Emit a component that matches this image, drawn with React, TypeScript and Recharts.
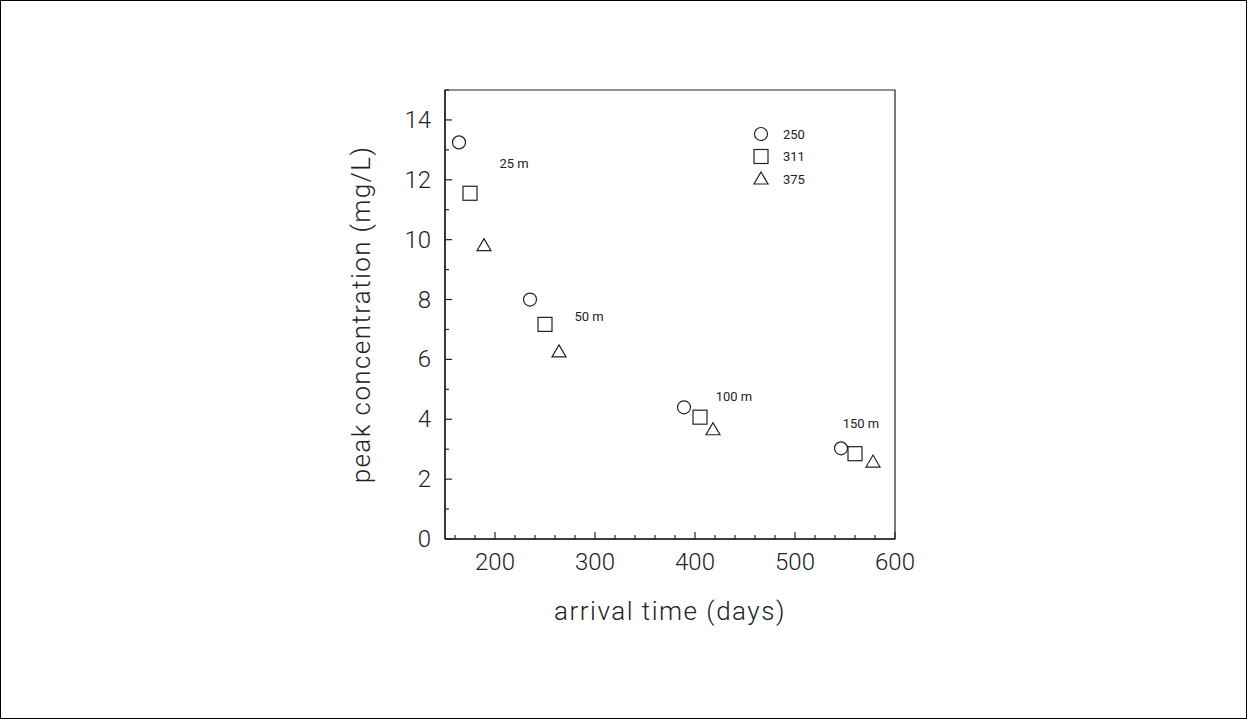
import React from 'react'
import {
  ScatterChart,
  Scatter,
  XAxis,
  YAxis,
  ReferenceArea,
  Legend,
} from 'recharts'

// arrival time (days) / peak concentration (mg/L) for each series
const series250X = [164, 235, 389, 546]
const series250Y = [13.25, 8.0, 4.4, 3.03]
const series311X = [175, 250, 405, 560]
const series311Y = [11.55, 7.17, 4.07, 2.85]
const series375X = [189, 264, 418, 578]
const series375Y = [9.8, 6.25, 3.65, 2.57]

// distance labels
const distLabels = ['25 m', '50 m', '100 m', '150 m']
const distLabelX = [219, 294, 439, 566]
const distLabelY = [12.55, 7.43, 4.77, 3.87]

const xTicks = [160, 180, 200, 220, 240, 260, 280, 300, 320, 340, 360, 380, 400, 420, 440, 460, 480, 500, 520, 540, 560, 580, 600]
const xMajor = [200, 300, 400, 500, 600]
const yTicks = [0, 1, 2, 3, 4, 5, 6, 7, 8, 9, 10, 11, 12, 13, 14, 15]
const yMajor = [0, 2, 4, 6, 8, 10, 12, 14]

const toPoints = (xs: number[], ys: number[]) => xs.map((x, i) => ({ x, y: ys[i] }))
const data250 = toPoints(series250X, series250Y)
const data311 = toPoints(series311X, series311Y)
const data375 = toPoints(series375X, series375Y)
const labelData = distLabels.map((text, i) => ({ x: distLabelX[i], y: distLabelY[i], text }))

const INK = '#222'
const FONT = 'Roboto, "Liberation Sans", sans-serif'

const CircleMark = ({ cx, cy }: any) => (
  <circle cx={cx} cy={cy} r={6.5} fill="none" stroke={INK} strokeWidth={1.2} />
)
const SquareMark = ({ cx, cy }: any) => (
  <rect x={cx - 7} y={cy - 7} width={14} height={14} fill="none" stroke={INK} strokeWidth={1.2} />
)
const TriangleMark = ({ cx, cy }: any) => (
  <path
    d={`M${cx},${cy - 7} L${cx + 7},${cy + 5} L${cx - 7},${cy + 5} Z`}
    fill="none"
    stroke={INK}
    strokeWidth={1.2}
  />
)
const TextMark = ({ cx, cy, payload }: any) => (
  <text x={cx} y={cy} textAnchor="middle" dominantBaseline="central" fontSize={13} fontFamily={FONT} fill={INK}>
    {payload.text}
  </text>
)

const XTick = ({ x, y, payload }: any) => {
  const major = xMajor.includes(payload.value)
  const len = major ? 7 : 4
  return (
    <g>
      <line x1={x} y1={y} x2={x} y2={y - len} stroke={INK} strokeWidth={1.2} />
      {major && (
        <text x={x} y={y + 31} textAnchor="middle" fontSize={24} fontWeight={300} fontFamily={FONT} fill={INK}>
          {payload.value}
        </text>
      )}
    </g>
  )
}

const YTick = ({ x, y, payload }: any) => {
  const major = yMajor.includes(payload.value)
  const len = major ? 7 : 4
  return (
    <g>
      <line x1={x} y1={y} x2={x + len} y2={y} stroke={INK} strokeWidth={1.2} />
      {major && (
        <text x={x - 14} y={y} textAnchor="end" dominantBaseline="central" fontSize={24} fontWeight={300} fontFamily={FONT} fill={INK}>
          {payload.value}
        </text>
      )}
    </g>
  )
}

const legendItems = [
  { name: '250', Shape: CircleMark },
  { name: '311', Shape: SquareMark },
  { name: '375', Shape: TriangleMark },
]

const LegendBox = () => (
  <svg width={60} height={70}>
    {legendItems.map(({ name, Shape }, i) => (
      <g key={name}>
        <Shape cx={9} cy={10 + i * 22.5} />
        <text x={31} y={10 + i * 22.5} dominantBaseline="central" fontSize={13} fontFamily={FONT} fill={INK}>
          {name}
        </text>
      </g>
    ))}
  </svg>
)

const App = () => {
  return (
    <div style={{ position: 'absolute', top: 0, left: 0, width: 1247, height: 719, background: '#fff' }}>
      <ScatterChart width={1247} height={719} margin={{ top: 90, right: 352, bottom: 140, left: 385 }}>
        <XAxis
          type="number"
          dataKey="x"
          domain={[150, 600]}
          ticks={xTicks}
          interval={0}
          height={40}
          tickSize={0}
          tickMargin={0}
          tickLine={false}
          axisLine={{ stroke: INK, strokeWidth: 1.5 }}
          tick={<XTick />}
          allowDataOverflow
          label={{
            content: ({ viewBox }: any) => (
              <text
                x={viewBox.x + viewBox.width / 2}
                y={620}
                textAnchor="middle"
                fontSize={26}
                fontWeight={300}
                fontFamily={FONT}
                letterSpacing={1.5}
                fill={INK}
              >
                arrival time (days)
              </text>
            ),
          }}
        />
        <YAxis
          type="number"
          dataKey="y"
          domain={[0, 15]}
          ticks={yTicks}
          interval={0}
          width={60}
          tickSize={0}
          tickMargin={0}
          tickLine={false}
          axisLine={{ stroke: INK, strokeWidth: 1.5 }}
          tick={<YTick />}
          allowDataOverflow
          label={{
            content: ({ viewBox }: any) => {
              const cx = 370
              const cy = viewBox.y + viewBox.height / 2
              return (
                <text
                  x={cx}
                  y={cy}
                  transform={`rotate(-90, ${cx}, ${cy})`}
                  textAnchor="middle"
                  fontSize={26}
                  fontWeight={300}
                  fontFamily={FONT}
                  letterSpacing={1.4}
                  fill={INK}
                >
                  peak concentration (mg/L)
                </text>
              )
            },
          }}
        />
        <ReferenceArea x1={150} x2={600} y1={0} y2={15} fill="none" stroke={INK} strokeWidth={1.2} ifOverflow="extendDomain" />
        <Legend
          layout="vertical"
          align="center"
          verticalAlign="middle"
          content={<LegendBox />}
          wrapperStyle={{ position: 'absolute', left: 752, top: 124, width: 60, height: 70 }}
        />
        <Scatter name="250" data={data250} shape={<CircleMark />} isAnimationActive={false} />
        <Scatter name="311" data={data311} shape={<SquareMark />} isAnimationActive={false} />
        <Scatter name="375" data={data375} shape={<TriangleMark />} isAnimationActive={false} />
        <Scatter name="labels" data={labelData} shape={<TextMark />} isAnimationActive={false} legendType="none" />
      </ScatterChart>
      <div
        style={{
          position: 'absolute',
          top: 0,
          left: 0,
          width: 1247,
          height: 719,
          boxSizing: 'border-box',
          border: '1px solid #000',
          pointerEvents: 'none',
        }}
      />
    </div>
  )
}

export default App
